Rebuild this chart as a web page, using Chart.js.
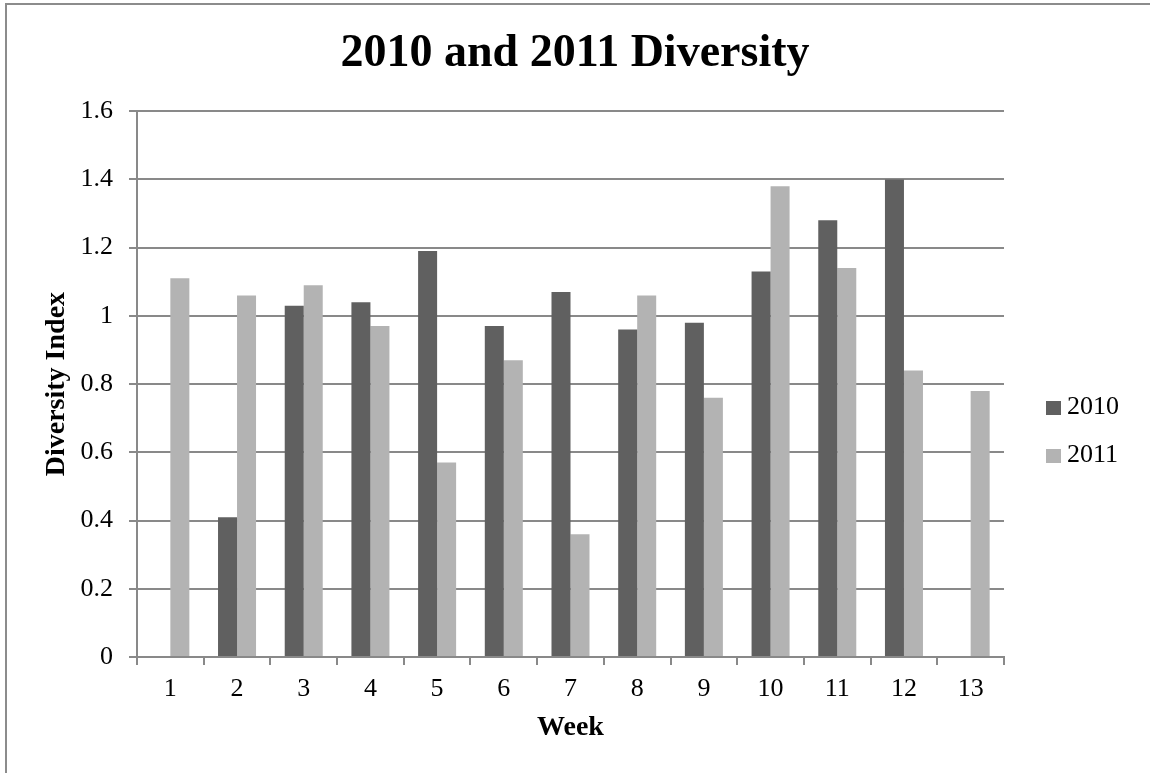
<!DOCTYPE html>
<html>
<head>
<meta charset="utf-8">
<script src="https://cdn.jsdelivr.net/npm/chart.js@4"></script>
<style>
    html, body { margin: 0; padding: 0; background: #ffffff; overflow: hidden; }
    #zone { position: relative; width: 1150px; height: 773px; }
    #cadre {
        position: absolute; left: 5px; top: 3px; width: 2000px; height: 2000px;
        border-left: 2px solid #8c8c8c; border-top: 2px solid #8c8c8c;
        pointer-events: none;
    }
    #graphe { position: absolute; left: 0; top: 0; }
    .legende { position: absolute; left: 1046px; font: 26px "Liberation Serif", serif; color: #000; }
    .legende div { position: absolute; white-space: nowrap; height: 30px; line-height: 30px; }
    .legende span { display: inline-block; width: 15px; height: 14px; margin-right: 6px; vertical-align: -1px; }
</style>
</head>
<body>
<div id="zone">
    <div id="cadre"></div>
    <canvas id="graphe" width="1150" height="773"></canvas>
    <div class="legende" id="legende"></div>
</div>
<script>
// ==========================================
//  DONNÉES
// ==========================================
const semaines = ['1', '2', '3', '4', '5', '6', '7', '8', '9', '10', '11', '12', '13'];
const valeurs2010 = [null, 0.41, 1.03, 1.04, 1.19, 0.97, 1.07, 0.96, 0.98, 1.13, 1.28, 1.40, null];
const valeurs2011 = [1.11, 1.06, 1.09, 0.97, 0.57, 0.87, 0.36, 1.06, 0.76, 1.38, 1.14, 0.84, 0.78];
const series = ['2010', '2011'];
const couleurs = ['#606060', '#b3b3b3'];
const yMin = 0, yMax = 1.6, yPas = 0.2;

// ==========================================
//  GRAPHIQUE
// ==========================================
const gris = '#898989';
const police = '"Liberation Serif", "Times New Roman", serif';

const ctx = document.getElementById('graphe').getContext('2d');
new Chart(ctx, {
    type: 'bar',
    data: {
        labels: semaines,
        datasets: [
            { label: series[0], data: valeurs2010, backgroundColor: couleurs[0] },
            { label: series[1], data: valeurs2011, backgroundColor: couleurs[1] }
        ]
    },
    options: {
        responsive: false,
        animation: false,
        categoryPercentage: 0.57,
        barPercentage: 1.0,
        layout: { padding: 0 },
        plugins: {
            legend: { display: false },
            tooltip: { enabled: false },
            title: {
                display: true,
                text: '2010 and 2011 Diversity',
                color: '#000',
                font: { family: police, size: 46, weight: 'bold' },
                padding: { top: 27, bottom: 29 }
            }
        },
        scales: {
            x: {
                grid: { display: true, drawOnChartArea: false, drawTicks: true, tickLength: 8, color: gris, lineWidth: 2 },
                border: { display: true, color: gris, width: 2 },
                ticks: { color: '#000', font: { family: police, size: 26 }, padding: 9 },
                title: {
                    display: true, text: 'Week', color: '#000',
                    font: { family: police, size: 28, weight: 'bold' },
                    padding: { top: 0, bottom: 28 }
                },
                afterFit: axe => { axe.height = 116; }
            },
            y: {
                min: yMin,
                max: yMax,
                grid: { color: gris, lineWidth: 2, tickLength: 8 },
                border: { display: true, color: gris, width: 2 },
                ticks: {
                    stepSize: yPas, color: '#000', font: { family: police, size: 26 }, padding: 16,
                    callback: v => String(+v.toFixed(1))
                },
                title: {
                    display: true, text: 'Diversity Index', color: '#000',
                    font: { family: police, size: 28, weight: 'bold' },
                    padding: { top: 40, bottom: 0 }
                },
                afterFit: axe => { axe.width = 137; }
            },
            // place réservée à droite pour la légende (axe invisible)
            marge: {
                position: 'right',
                grid: { display: false },
                border: { display: false },
                ticks: { display: false },
                afterFit: axe => { axe.width = 146; }
            }
        }
    }
});

// ==========================================
//  LÉGENDE
// ==========================================
const legende = document.getElementById('legende');
const positionsLegende = [391, 439];
series.forEach((nom, i) => {
    const ligne = document.createElement('div');
    ligne.style.top = positionsLegende[i] + 'px';
    ligne.innerHTML = `<span style="background:${couleurs[i]}"></span>${nom}`;
    legende.appendChild(ligne);
});
</script>
</body>
</html>
